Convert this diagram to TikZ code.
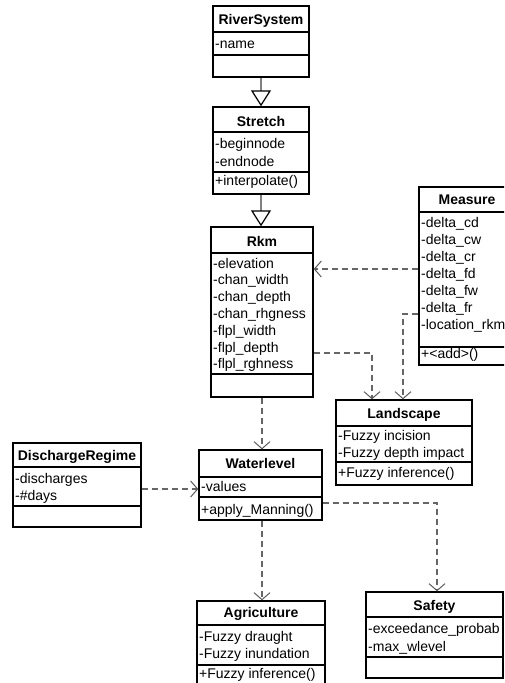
\documentclass[tikz,border=0pt]{standalone}
\usepackage{fontspec}
\setmainfont{Liberation Sans}
\usetikzlibrary{arrows.meta,fit}
\begin{document}
\begin{tikzpicture}[x=1pt,y=-1pt,
 classbox/.style={draw=black, line width=1.4pt, inner sep=0pt, fill=white},
 divline/.style={draw=black, line width=1.4pt},
 ttl/.style={font=\fontsize{14}{17}\selectfont\bfseries, anchor=base, inner sep=0pt},
 attr/.style={font=\fontsize{14}{17}\selectfont, anchor=base west, inner sep=0pt},
 dep/.style={draw=black!60, line width=1.2pt, dash pattern=on 6pt off 4pt, -{Straight Barb[length=7pt,width=16pt,line width=1pt,black!65]}},
 inh/.style={draw=black!50, line width=1.6pt, -{Triangle[open,length=16pt,width=20pt,fill=white,black,line width=1.2pt]}},
]
\useasboundingbox (0,0) rectangle (504,683);
\clip (0,0) rectangle (504,683);

% ---------- classes ----------
% RiverSystem
\node[classbox, fit={(213,6) (309,77)}] (riversystem) {};
\draw[divline] (213,32) -- (309,32);
\draw[divline] (213,55) -- (309,55);
\node[ttl] at (riversystem.north |- 0,24) {RiverSystem};
\node[attr] at (215,48) {-name};

% Stretch
\node[classbox, fit={(213,107) (309,194)}] (stretch) {};
\draw[divline] (213,132) -- (309,132);
\draw[divline] (213,172) -- (309,172);
\node[ttl] at (stretch.north |- 0,126) {Stretch};
\node[attr] at (215,148) {-beginnode};
\node[attr] at (215,166) {-endnode};
\node[attr] at (215,185) {+interpolate()};

% Rkm
\node[classbox, fit={(211,227) (313,397)}] (rkm) {};
\draw[divline] (211,253) -- (313,253);
\draw[divline] (211,374) -- (313,374);
\node[ttl] at (rkm.north |- 0,246) {Rkm};
\node[attr] at (213,268) {-elevation};
\node[attr] at (213,284.8) {-chan\_width};
\node[attr] at (213,301.6) {-chan\_depth};
\node[attr] at (213,318.4) {-chan\_rhgness};
\node[attr] at (213,335.2) {-flpl\_width};
\node[attr] at (213,352) {-flpl\_depth};
\node[attr] at (213,368.8) {-flpl\_rghness};

% Measure
\node[classbox, fit={(419,187) (515,365)}] (measure) {};
\draw[divline] (419,212) -- (515,212);
\draw[divline] (419,347) -- (515,347);
\node[ttl] at (measure.north |- 0,204) {Measure};
\node[attr] at (421,227) {-delta\_cd};
\node[attr] at (421,244) {-delta\_cw};
\node[attr] at (421,261) {-delta\_cr};
\node[attr] at (421,278) {-delta\_fd};
\node[attr] at (421,295) {-delta\_fw};
\node[attr] at (421,312) {-delta\_fr};
\node[attr] at (421,329) {-location\_rkm};
\node[attr] at (421,358) {+<add>()};

% Landscape
\node[classbox, fit={(336,400) (472,485)}] (landscape) {};
\draw[divline] (336,426) -- (472,426);
\draw[divline] (336,462) -- (472,462);
\node[ttl] at (landscape.north |- 0,418) {Landscape};
\node[attr] at (338,440) {-Fuzzy incision};
\node[attr] at (338,457) {-Fuzzy depth impact};
\node[attr] at (338,477) {+Fuzzy inference()};

% DischargeRegime
\node[classbox, fit={(13,443) (141,527)}] (discharge) {};
\draw[divline] (13,467) -- (141,467);
\draw[divline] (13,506) -- (141,506);
\node[ttl] at (discharge.north |- 0,460) {DischargeRegime};
\node[attr] at (15,483) {-discharges};
\node[attr] at (15,500) {-\#days};

% Waterlevel
\node[classbox, fit={(199,450) (322,520)}] (waterlevel) {};
\draw[divline] (199,477) -- (322,477);
\draw[divline] (199,497) -- (322,497);
\node[ttl] at (waterlevel.north |- 0,468) {Waterlevel};
\node[attr] at (201,491) {-values};
\node[attr] at (201,514) {+apply\_Manning()};

% Agriculture
\node[classbox, fit={(197,601) (325,700)}] (agriculture) {};
\draw[divline] (197,625) -- (325,625);
\draw[divline] (197,665) -- (325,665);
\node[ttl] at (agriculture.north |- 0,617) {Agriculture};
\node[attr] at (199,641) {-Fuzzy draught};
\node[attr] at (199,658) {-Fuzzy inundation};
\node[attr] at (199,678) {+Fuzzy inference()};

% Safety
\node[classbox, fit={(366,592) (503,678)}] (safety) {};
\draw[divline] (366,617) -- (503,617);
\draw[divline] (366,657) -- (503,657);
\node[ttl] at (safety.north |- 0,610) {Safety};
\node[attr] at (368,633) {-exceedance\_probab};
\node[attr] at (368,651) {-max\_wlevel};

% ---------- connectors ----------
\draw[inh] (riversystem.south) -- (stretch.north);
\draw[inh] (stretch.south) -- (stretch.south |- rkm.north);
\draw[dep] (measure.west |- 0,269) -- (rkm.east |- 0,269);
\draw[dep] (measure.west |- 0,314) -| ([xshift=-1pt]landscape.north);
\draw[dep] (rkm.east |- 0,353) -| ([xshift=-32pt]landscape.north);
\draw[dep] (rkm.south) -- (rkm.south |- waterlevel.north);
\draw[dep] (discharge.east |- 0,489) -- (waterlevel.west |- 0,489);
\draw[dep] (waterlevel.east |- 0,503) -| ([xshift=2.5pt]safety.north);
\draw[dep] ([xshift=1.5pt]waterlevel.south) -- ([xshift=1.5pt]waterlevel.south |- agriculture.north);
\end{tikzpicture}
\end{document}
